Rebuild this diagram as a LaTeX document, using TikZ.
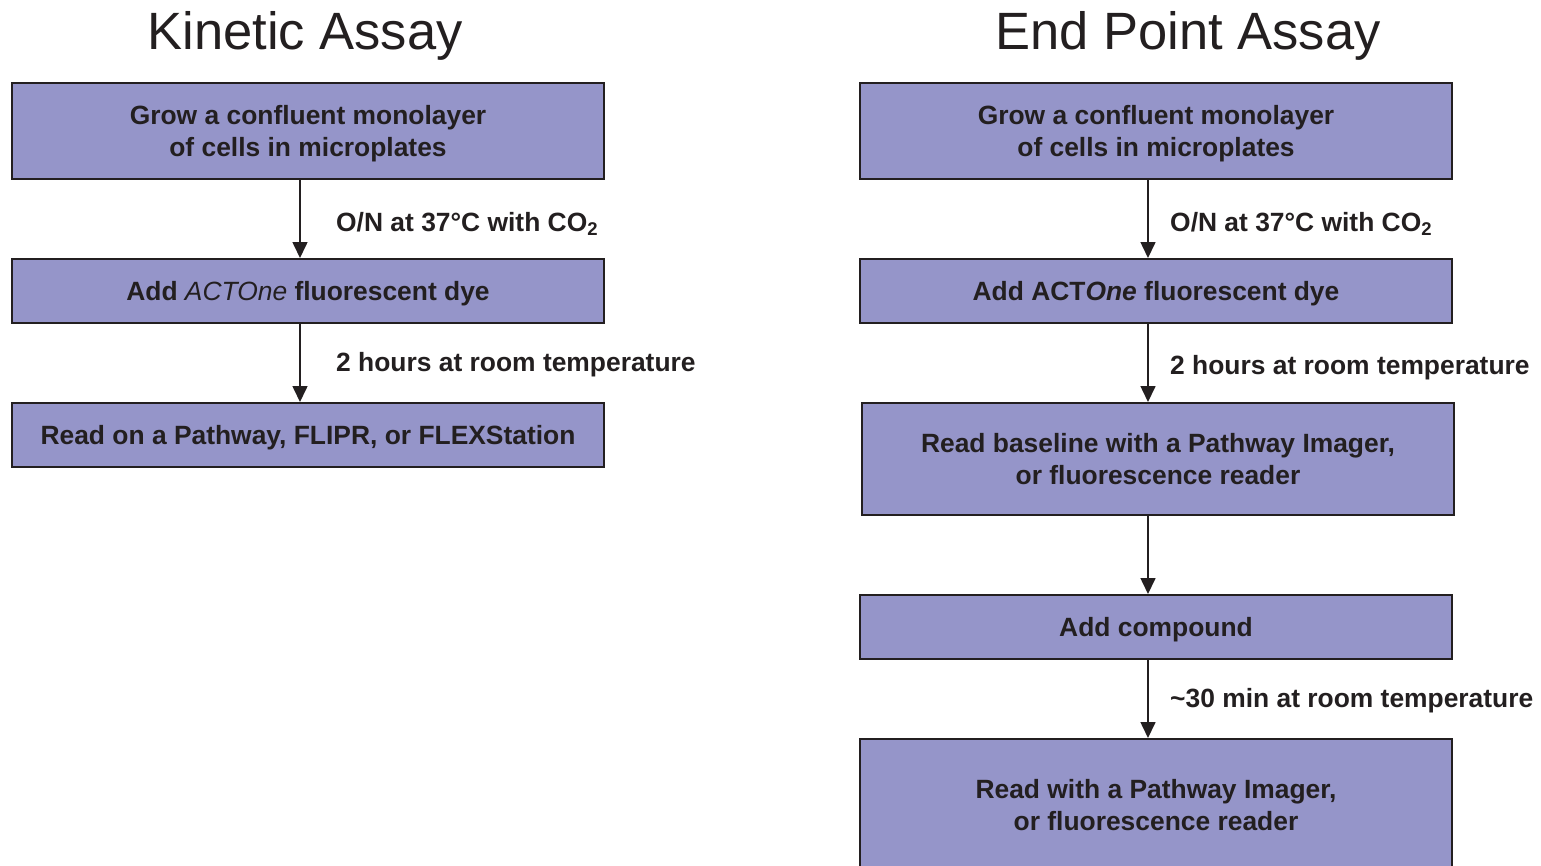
\documentclass[tikz,border=0pt]{standalone}
\usepackage{fontspec}
\setmainfont{Liberation Sans}
\usetikzlibrary{arrows.meta}
\definecolor{boxfill}{RGB}{149,149,201}
\definecolor{ink}{RGB}{35,31,32}
\tikzset{
  stepbox/.style={draw=ink, line width=2pt, fill=boxfill, text=ink, minimum width=592pt,
    align=center, inner sep=0pt, text depth=-2pt, font=\fontsize{26.4}{32}\selectfont\bfseries},
  flow/.style={draw=ink, line width=1.6pt, -{Triangle[width=15pt,length=16pt]}},
  lbl/.style={anchor=base west, text=ink, inner sep=0pt, font=\fontsize{26.4}{32}\selectfont\bfseries},
  ttl/.style={anchor=base, text=ink, inner sep=0pt, font=\fontsize{52.5}{60}\selectfont}
}
\begin{document}
\begin{tikzpicture}[x=1pt,y=-1pt]
\clip (0,0) rectangle (1541,865);
\useasboundingbox (0,0) rectangle (1541,865);
% titles
\node[ttl] (t1) at (305,49) {Kinetic Assay};
\node[ttl] (t2) at (1188,49) {End Point Assay};
% left column
\node[stepbox, minimum height=96pt] (k1) at (308,131) {Grow a confluent monolayer\\of cells in microplates};
\node[stepbox, minimum height=64pt] (k2) at (308,291) {Add \textit{\mdseries ACTOne} fluorescent dye};
\node[stepbox, minimum height=64pt] (k3) at (308,435) {Read on a Pathway, FLIPR, or FLEXStation};
\draw[flow] ([xshift=-8pt]k1.south) -- ([xshift=-8pt]k2.north);
\draw[flow] ([xshift=-8pt]k2.south) -- ([xshift=-8pt]k3.north);
\node[lbl] (kl1) at (336,231) {O/N at 37°C with CO\textsubscript{2}};
\node[lbl] (kl2) at (336,371) {2 hours at room temperature};
% right column
\node[stepbox, minimum height=96pt] (e1) at (1156,131) {Grow a confluent monolayer\\of cells in microplates};
\node[stepbox, minimum height=64pt] (e2) at (1156,291) {Add ACT\textit{One} fluorescent dye};
\node[stepbox, minimum height=112pt] (e3) at (1158,459) {Read baseline with a Pathway Imager,\\or fluorescence reader};
\node[stepbox, minimum height=64pt] (e4) at (1156,627) {Add compound};
\node[stepbox, minimum height=132pt] (e5) at (1156,805) {Read with a Pathway Imager,\\or fluorescence reader};
\draw[flow] ([xshift=-8pt]e1.south) -- ([xshift=-8pt]e2.north);
\draw[flow] ([xshift=-8pt]e2.south) -- ([xshift=-10pt]e3.north);
\draw[flow] ([xshift=-10pt]e3.south) -- ([xshift=-8pt]e4.north);
\draw[flow] ([xshift=-8pt]e4.south) -- ([xshift=-8pt]e5.north);
\node[lbl] (el1) at (1170,231) {O/N at 37°C with CO\textsubscript{2}};
\node[lbl] (el2) at (1170,374) {2 hours at room temperature};
\node[lbl] (el3) at (1170,707) {\textasciitilde 30 min at room temperature};
\end{tikzpicture}
\end{document}
